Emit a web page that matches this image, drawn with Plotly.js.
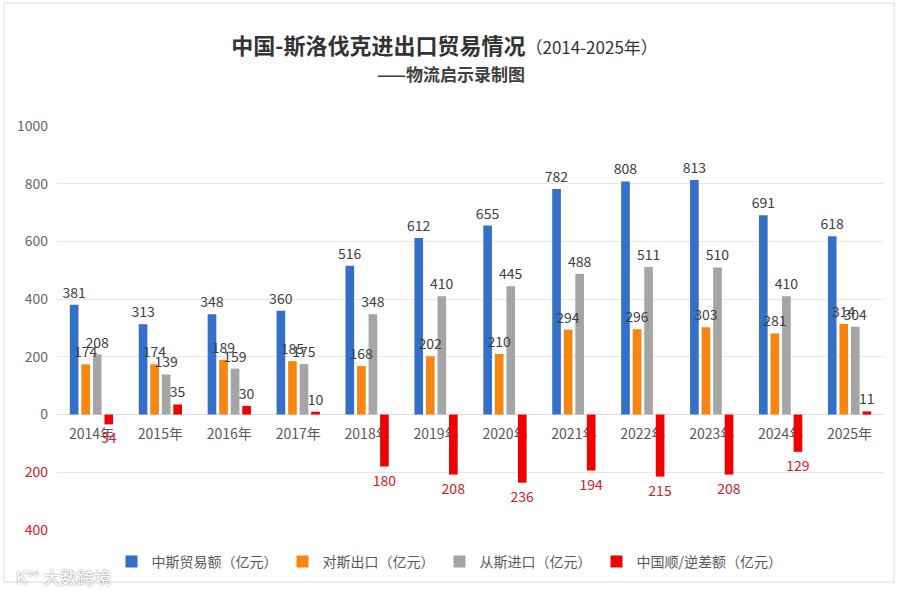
<!DOCTYPE html>
<html>
<head>
<meta charset="utf-8">
<script src="https://cdn.plot.ly/plotly-3.0.1.min.js"></script>
<style>html,body{margin:0;padding:0;background:#fff;}#chart{width:900px;height:591px;}</style>
</head>
<body>
<div id="chart"></div>
<script>
var years = ['2014年','2015年','2016年','2017年','2018年','2019年','2020年','2021年','2022年','2023年','2024年','2025年'];
var totalTrade = [381,313,348,360,516,612,655,782,808,813,691,618];
var exportsToSK = [174,174,189,185,168,202,210,294,296,303,281,314];
var importsFromSK = [208,139,159,175,348,410,445,488,511,510,410,304];
var balance = [-34,35,30,10,-180,-208,-236,-194,-215,-208,-129,11];
var seriesNames = ['中斯贸易额（亿元）','对斯出口（亿元）','从斯进口（亿元）','中国顺/逆差额（亿元）'];
var yTickVals = [-400,-200,0,200,400,600,800,1000];

var FONT = '"Noto Sans CJK SC", "Noto Sans", sans-serif';
var LABEL = '#404040';
var NEGRED = '#d0202a';

function barTrace(vals, name, color, group) {
  return {
    type: 'bar', x: years, y: vals, name: name, offsetgroup: group,
    marker: {color: color},
    hoverinfo: 'x+y+name'
  };
}
function labelTrace(vals, group, textColors) {
  return {
    type: 'bar', x: years, y: vals, offsetgroup: group, showlegend: false,
    marker: {color: 'rgba(0,0,0,0)'},
    text: vals.map(function(v){ return String(Math.abs(v)); }),
    textposition: 'outside',
    constraintext: 'none',
    cliponaxis: false,
    textfont: {family: FONT, size: 14, color: textColors || LABEL},
    hoverinfo: 'skip'
  };
}

var data = [
  barTrace(totalTrade, seriesNames[0], '#3570c8', 'g1'),
  barTrace(exportsToSK, seriesNames[1], '#f7850f', 'g2'),
  barTrace(importsFromSK, seriesNames[2], '#a5a5a5', 'g3'),
  barTrace(balance, seriesNames[3], '#f00000', 'g4'),
  labelTrace(totalTrade, 'g1'),
  labelTrace(exportsToSK, 'g2'),
  labelTrace(importsFromSK, 'g3'),
  labelTrace(balance, 'g4', balance.map(function(v){ return v < 0 ? NEGRED : LABEL; }))
];

var yTickText = yTickVals.map(function(v){
  return v < 0 ? '<span style="color:' + NEGRED + '">' + Math.abs(v) + '</span>' : String(v);
});

var yMin = -400, yMax = 1000;

var layout = {
  width: 900, height: 591,
  margin: {l: 57, r: 16, t: 126, b: 61},
  paper_bgcolor: '#fff', plot_bgcolor: '#fff',
  font: {family: FONT, color: '#595959'},
  barmode: 'group', bargap: 0.33, bargroupgap: 0.25,
  title: {
    text: '<b>中国-斯洛伐克进出口贸易情况</b><span style="font-size:17px">（2014-2025年）</span>',
    font: {family: FONT, size: 22, color: '#333333'},
    x: 0.494, xanchor: 'center', y: 0.921, yanchor: 'middle', xref: 'container', yref: 'container'
  },
  xaxis: {
    type: 'category', anchor: 'free', position: (0 - yMin) / (yMax - yMin),
    showline: false, ticks: '', showgrid: false, zeroline: false,
    tickfont: {family: FONT, size: 14, color: '#595959'},
    ticklabelstandoff: 9,
    layer: 'below traces'
  },
  yaxis: {
    range: [yMin, yMax], tickvals: yTickVals, ticktext: yTickText,
    showgrid: true, gridcolor: '#e8e8e8', gridwidth: 1,
    zeroline: true, zerolinecolor: '#dcdcdc', zerolinewidth: 1,
    showline: false, ticks: '',
    tickfont: {family: FONT, size: 14, color: '#666666'},
    ticklabelstandoff: 8
  },
  legend: {
    orientation: 'h', x: 0.4746, xanchor: 'center', y: -0.079, yanchor: 'middle',
    font: {family: FONT, size: 14, color: '#595959'},
    itemwidth: 30, tracegroupgap: 0
  },
  showlegend: true,
  shapes: [{
    type: 'rect', xref: 'paper', yref: 'paper',
    x0: (4 - 57) / 827, x1: (894 - 57) / 827,
    y0: (530 - 582) / 404, y1: (530 - 3) / 404,
    line: {color: '#dddddd', width: 1}, fillcolor: 'rgba(0,0,0,0)', layer: 'below'
  }],
  annotations: [
    {
      text: '<b>——物流启示录制图</b>', xref: 'paper', yref: 'paper',
      x: (451 - 57) / 827, y: (530 - 73) / 404, xanchor: 'center', yanchor: 'middle',
      showarrow: false, font: {family: FONT, size: 17, color: '#404040'}
    },
    {
      text: 'K°° 大数跨境', xref: 'paper', yref: 'paper',
      x: (14 - 57) / 827, y: (530 - 576) / 404, xanchor: 'left', yanchor: 'middle',
      showarrow: false, font: {family: FONT, size: 17, color: '#ffffff', shadow: '0px 0px 2px rgba(0,0,0,0.55)'}
    }
  ]
};

Plotly.newPlot('chart', data, layout, {displayModeBar: false, responsive: false});
</script>
</body>
</html>
